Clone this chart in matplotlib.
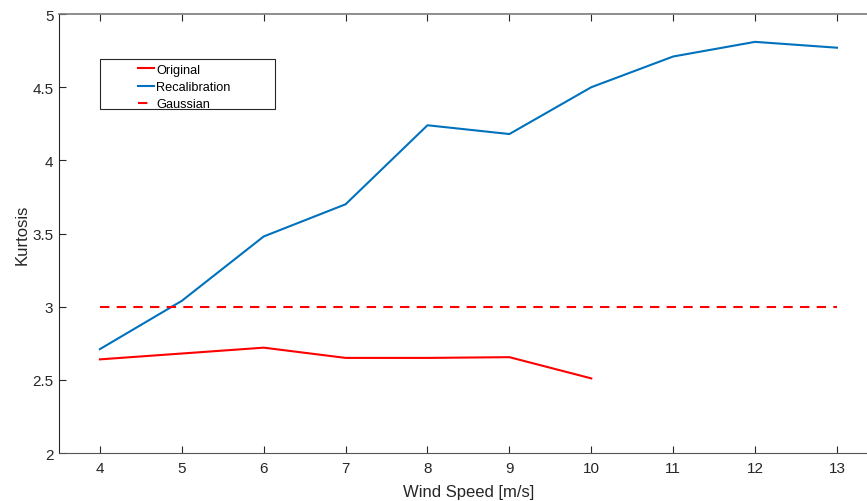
import matplotlib
matplotlib.use("Agg")
import matplotlib.pyplot as plt
from matplotlib.patches import Rectangle

# --- data ---
wind_speed = [4, 5, 6, 7, 8, 9, 10, 11, 12, 13]
kurt_recal = [2.71, 3.04, 3.48, 3.70, 4.24, 4.18, 4.50, 4.71, 4.81, 4.77]
wind_orig = [4, 5, 6, 7, 8, 9, 10]
kurt_orig = [2.64, 2.68, 2.72, 2.65, 2.65, 2.655, 2.51]
gauss_x = [4, 13]
gauss_y = [3, 3]

plt.rcParams['font.family'] = ['Liberation Sans', 'DejaVu Sans']

fig = plt.figure(figsize=(8.67, 5.02), dpi=100)
# axes run past the right edge of the figure, like the cropped original
ax = fig.add_axes([0.068, 0.0956, 0.9446, 0.8744])

ax.plot(wind_orig, kurt_orig, color='#ff0000', lw=1.5, label='Original')
ax.plot(wind_speed, kurt_recal, color='#0072bd', lw=1.5, label='Recalibration')
ax.plot(gauss_x, gauss_y, color='#ff0000', lw=1.5, ls=(0, (4.5, 3.5)), label='Gaussian')

ax.set_xlim(3.5, 13.5)
ax.set_ylim(2, 5)
ax.set_xticks(wind_speed)
ax.set_yticks([2, 2.5, 3, 3.5, 4, 4.5, 5])
ax.set_yticklabels(['2', '2.5', '3', '3.5', '4', '4.5', '5'])

axis_col = '#262626'
for s in ax.spines.values():
    s.set_color(axis_col)
    s.set_linewidth(0.8)
ax.spines['top'].set_color('#7a7a7a')
ax.spines['top'].set_linewidth(1.2)
ax.spines['bottom'].set_color('#555555')
ax.tick_params(direction='in', length=5, width=0.8, colors=axis_col,
               labelsize=11, top=True, right=True)
ax.tick_params(axis='y', pad=4)
ax.tick_params(axis='x', pad=6)

ax.set_xlabel('Wind Speed [m/s]', fontsize=12, color=axis_col, labelpad=6)
ax.set_ylabel('Kurtosis', fontsize=12, color=axis_col, labelpad=2)

# legend without frame, then a wide MATLAB-like box drawn around it
leg = ax.legend(loc='upper left', bbox_to_anchor=(0.097, 0.887), fontsize=9.2,
                frameon=False, handlelength=1.2, handletextpad=0.2,
                borderpad=0, labelspacing=0.42, borderaxespad=0)
ax.add_patch(Rectangle((0.050, 0.783), 0.214, 0.114, transform=ax.transAxes,
                       fill=False, edgecolor=axis_col, lw=0.8, zorder=5))

fig.savefig('out.png', dpi=100)
